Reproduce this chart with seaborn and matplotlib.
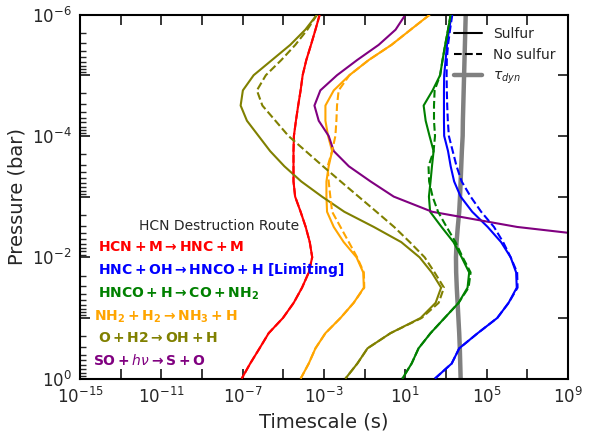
import numpy as np
import pandas as pd
import matplotlib
matplotlib.use("Agg")
import matplotlib.pyplot as plt
import seaborn as sns
from matplotlib.ticker import FixedLocator, FuncFormatter, LogLocator, NullLocator, NullFormatter
from matplotlib.lines import Line2D

sns.set_style("ticks")
plt.rcParams["font.family"] = ["DejaVu Sans"]

# pressure levels (log10 bar)
log_p = [-6.0, -5.75, -5.5, -5.25, -5.0, -4.75, -4.5, -4.25, -4.0, -3.75, -3.5, -3.25,
         -3.0, -2.75, -2.5, -2.25, -2.0, -1.75, -1.5, -1.25, -1.0, -0.75, -0.5, -0.25, 0.0]

# timescales (log10 s)
red_s = [-3.21, -3.42, -3.64, -3.87, -4.05, -4.15, -4.27, -4.38, -4.48, -4.50, -4.50, -4.50,
         -4.42, -4.15, -3.90, -3.70, -3.58, -3.75, -4.08, -4.49, -5.02, -5.72, -6.17, -6.63, -7.05]
red_ns = list(red_s)

blue_s = [3.28, 3.15, 3.05, 2.98, 2.91, 2.90, 2.90, 2.90, 2.91, 3.10, 3.23, 3.40,
          3.72, 4.29, 5.05, 5.71, 6.18, 6.45, 6.48, 6.08, 5.52, 4.56, 3.65, 3.28, 2.45]
blue_ns = [3.31, 3.20, 3.10, 3.04, 3.03, 3.04, 3.06, 3.09, 3.14, 3.33, 3.52, 3.77,
           4.21, 4.73, 5.36, 5.81, 6.18, 6.50, 6.52, 6.08, 5.52, 4.56, 3.65, 3.28, 2.45]

green_s = [3.23, 3.10, 2.96, 2.83, 2.71, 2.34, 1.90, 2.00, 2.19, 2.39, 2.31, 2.24,
           2.16, 2.22, 2.78, 3.37, 3.77, 4.14, 4.06, 3.62, 2.93, 2.24, 1.65, 1.31, 0.85]
green_ns = [3.23, 3.10, 2.96, 2.83, 2.71, 2.44, 2.41, 2.41, 2.46, 2.39, 2.14, 2.17,
            2.34, 2.61, 3.03, 3.47, 3.82, 4.21, 4.11, 3.62, 2.93, 2.24, 1.65, 1.31, 0.85]

orange_s = [2.21, 1.26, 0.32, -0.80, -1.75, -2.52, -2.93, -2.93, -2.80, -2.60, -2.77, -2.88,
            -2.88, -2.85, -2.52, -2.03, -1.40, -1.07, -1.04, -1.54, -2.19, -2.93, -3.42, -3.75, -4.15]
orange_ns = [2.21, 1.26, 0.32, -0.80, -1.75, -2.28, -2.36, -2.39, -2.44, -2.60, -2.82, -2.77,
             -2.69, -2.60, -2.19, -1.78, -1.37, -1.04, -1.02, -1.54, -2.19, -2.93, -3.42, -3.75, -4.15]

olive_s = [-3.34, -3.92, -4.66, -5.56, -6.46, -6.99, -7.10, -6.79, -6.22, -5.65, -4.95, -4.12,
           -3.10, -2.00, -0.55, 0.80, 1.70, 2.30, 2.76, 2.49, 1.75, 0.27, -0.86, -1.36, -1.95]
olive_ns = [-3.34, -3.82, -4.41, -5.10, -5.86, -6.30, -6.03, -5.39, -4.75, -3.90, -3.05, -2.18,
            -1.30, -0.42, 0.45, 1.22, 1.95, 2.44, 2.90, 2.64, 1.80, 0.27, -0.86, -1.36, -1.95]

purple_log_p = [-6.0, -5.75, -5.5, -5.25, -5.0, -4.75, -4.5, -4.25, -4.0, -3.75, -3.5, -3.25,
                -3.0, -2.75, -2.5, -2.25]
purple_s = [1.01, 0.52, -0.31, -1.37, -2.36, -3.18, -3.47, -3.26, -2.77, -2.52, -1.78, -0.71,
            0.43, 2.32, 6.5, 13.0]

tau_dyn = [3.97, 3.95, 3.93, 3.91, 3.89, 3.87, 3.85, 3.83, 3.82, 3.78, 3.75, 3.72,
           3.69, 3.65, 3.58, 3.52, 3.49, 3.50, 3.53, 3.57, 3.61, 3.65, 3.68, 3.70, 3.72]

routes = ["HCN+M", "HNC+OH", "HNCO+H", "NH2+H2", "O+H2", "SO+hv"]
colors = {"HCN+M": "red", "HNC+OH": "blue", "HNCO+H": "green",
          "NH2+H2": "orange", "O+H2": "olive", "SO+hv": "purple"}

series = [("HCN+M", log_p, red_s, red_ns), ("HNC+OH", log_p, blue_s, blue_ns),
          ("HNCO+H", log_p, green_s, green_ns), ("NH2+H2", log_p, orange_s, orange_ns),
          ("O+H2", log_p, olive_s, olive_ns), ("SO+hv", purple_log_p, purple_s, None)]

rows = []
for name, lp, s, ns in series:
    for p, v in zip(lp, s):
        rows.append({"P": 10.0 ** p, "t": 10.0 ** v, "route": name, "case": "Sulfur"})
    if ns is not None:
        for p, v in zip(lp, ns):
            rows.append({"P": 10.0 ** p, "t": 10.0 ** v, "route": name, "case": "No sulfur"})
df = pd.DataFrame(rows)
df_tau = pd.DataFrame({"P": [10.0 ** p for p in log_p], "t": [10.0 ** v for v in tau_dyn]})

fig = plt.figure(figsize=(5.9, 4.32), dpi=100)
ax = fig.add_axes([0.1356, 0.1234, 0.8271, 0.843])

sns.lineplot(data=df_tau, x="t", y="P", color="grey", lw=3.2, sort=False,
             estimator=None, ax=ax, zorder=1, legend=False)
sns.lineplot(data=df[df.case == "Sulfur"], x="t", y="P", hue="route", palette=colors,
             hue_order=routes, sort=False, estimator=None, lw=1.5, ax=ax, legend=False, zorder=2)
sns.lineplot(data=df[df.case == "No sulfur"], x="t", y="P", hue="route", palette=colors,
             hue_order=routes[:5], sort=False, estimator=None, lw=1.5, ax=ax, legend=False,
             zorder=3, linestyle="--")

ax.set_xscale("log")
ax.set_yscale("log")
ax.set_xlim(1e-15, 1e9)
ax.set_ylim(1.0, 1e-6)

ax.xaxis.set_major_locator(FixedLocator([10.0 ** e for e in range(-15, 10, 2)]))
ax.xaxis.set_major_formatter(FuncFormatter(
    lambda v, pos: (r"$10^{%d}$" % round(np.log10(v))) if (round(np.log10(v)) + 15) % 4 == 0 else ""))
ax.xaxis.set_minor_locator(NullLocator())
ax.yaxis.set_major_locator(FixedLocator([10.0 ** e for e in range(-6, 1)]))
ax.yaxis.set_major_formatter(FuncFormatter(
    lambda v, pos: (r"$10^{%d}$" % round(np.log10(v))) if round(np.log10(v)) % 2 == 0 else ""))
ax.yaxis.set_minor_locator(LogLocator(base=10, subs=np.arange(2, 10), numticks=30))
ax.yaxis.set_minor_formatter(NullFormatter())

ax.tick_params(which="major", direction="in", top=True, right=True, length=7, width=1.3,
               labelsize=12, colors="#262626", pad=6)
ax.tick_params(which="minor", direction="in", left=True, right=False, top=False, length=4, width=1.0)
for sp in ax.spines.values():
    sp.set_linewidth(1.5)
    sp.set_color("black")

ax.set_xlabel("Timescale (s)", fontsize=14, color="#262626")
ax.set_ylabel("Pressure (bar)", fontsize=14, color="#262626")

handles = [Line2D([], [], color="black", lw=1.5, ls="-"),
           Line2D([], [], color="black", lw=1.5, ls="--"),
           Line2D([], [], color="grey", lw=3.2)]
ax.legend(handles, ["Sulfur", "No sulfur", r"$\tau_{dyn}$"], loc="upper right",
          frameon=False, fontsize=10)

ax.text(0.285, 0.42, "HCN Destruction Route", transform=ax.transAxes, ha="center",
        va="center", fontsize=10, color="#262626")
labels = [
    (r"$\mathbf{HCN + M \rightarrow HNC + M}$", "red", 0.037, 0.362),
    (r"$\mathbf{HNC + OH \rightarrow HNCO + H\ [Limiting]}$", "blue", 0.037, 0.298),
    (r"$\mathbf{HNCO + H \rightarrow CO + NH_2}$", "green", 0.037, 0.234),
    (r"$\mathbf{NH_2 + H_2 \rightarrow NH_3 + H}$", "orange", 0.029, 0.171),
    (r"$\mathbf{O + H2 \rightarrow OH + H}$", "olive", 0.037, 0.111),
    (r"$\mathbf{SO + }h\nu\mathbf{ \rightarrow S + O}$", "purple", 0.027, 0.049),
]
for txt, c, x, y in labels:
    ax.text(x, y, txt, transform=ax.transAxes, ha="left", va="center", fontsize=10, color=c)

fig.savefig("out.png", dpi=100)
